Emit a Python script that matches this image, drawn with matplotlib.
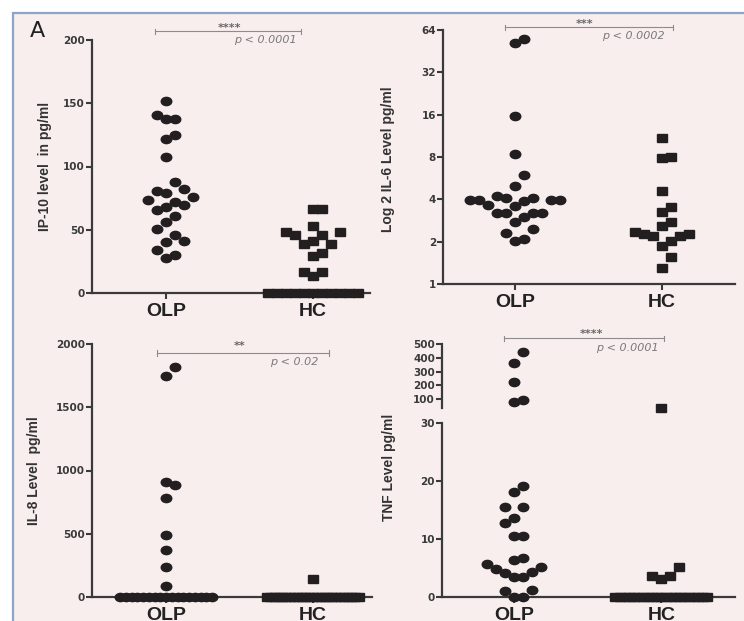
import numpy as np
import matplotlib
matplotlib.use('Agg')
import matplotlib.pyplot as plt
from matplotlib.markers import MarkerStyle
from matplotlib.transforms import Affine2D, blended_transform_factory
from matplotlib.patches import Rectangle

# donnees
groups = ['OLP', 'HC']
ip10_olp = [151.8, 137.9, 137.9, 140.5, 121.6, 124.7, 107.9, 87.6, 82.4, 78.9, 80.8, 75.5, 73.9,
            72.1, 69.5, 67.6, 65.8, 60.5, 56.1, 50.8, 46.1, 40.8, 40.3, 34.2, 27.6, 30.3]
ip10_hc = [66.3, 66.3, 52.6, 48.2, 45.8, 48.2, 45.5, 38.7, 41.3, 38.7, 28.9, 31.6, 16.6, 13.7, 16.6] + [0] * 11
il6_olp = [52, 55, 15.6, 8.4, 6.0, 5.0, 3.95, 3.95, 3.9, 4.07, 4.22, 3.95, 3.95, 4.07, 3.6, 3.65,
           3.2, 3.2, 3.0, 2.75, 3.2, 3.2, 2.45, 2.3, 2.03, 2.08]
il6_hc = [11.0, 8.05, 7.9, 4.6, 3.5, 3.27, 2.78, 2.58, 2.33, 2.25, 2.25, 2.2, 2.2, 2.03, 1.86, 1.55, 1.29]
il8_olp = [1750, 1821, 910, 889, 779, 492, 371, 234, 84] + [0] * 17
il8_hc = [142] + [0] * 25
tnf_olp = [442, 362, 224, 78, 93, 19.2, 18.1, 15.5, 15.5, 13.6, 12.7, 10.6, 10.5, 6.8, 6.4, 5.7,
           5.2, 4.75, 4.3, 4.2, 3.4, 3.4, 0.97, 1.15, 0, 0]
tnf_hc = [38, 5.2, 3.7, 3.1, 3.7] + [0] * 21

W, H = 744, 621
fig = plt.figure(figsize=(W / 100, H / 100), dpi=100)
fig.patch.set_facecolor('white')
fig.patches.append(Rectangle((12.5 / W, -0.1), 1.2, 1.1 - 13 / H, transform=fig.transFigure,
                             facecolor='#f8eeee', edgecolor='#8ea4c4', lw=1.6, zorder=-10))

axcol = '#3a3a3a'
dot = '#231f20'
gris = '#8c8c8c'
circ = MarkerStyle('o', transform=Affine2D().scale(1.15, 0.9))
carre = MarkerStyle('s', transform=Affine2D().scale(1.1, 0.95))

# decalages candidats (pixels) : 0, +0.5, -0.5, +1, -1 ...
cands = [0.0]
for k in np.arange(0.5, 90, 0.5):
    cands += [k, -k]
cands = np.array(cands)


def add_ax(l, t, r, b):
    return fig.add_axes([l / W, 1 - b / H, (r - l) / W, (b - t) / H])


def style(ax, xlabels=True):
    ax.set_facecolor('none')
    for s in ['top', 'right']:
        ax.spines[s].set_visible(False)
    for s in ['left', 'bottom']:
        ax.spines[s].set_color(axcol)
        ax.spines[s].set_linewidth(1.6)
    ax.tick_params(axis='y', length=4, width=1.5, color=axcol, labelsize=7.5,
                   labelcolor='#3a3a3a', pad=1)
    ax.tick_params(axis='x', length=4, width=1.5, color=axcol, pad=3)
    if xlabels:
        ax.set_xticks([0, 1], groups, fontsize=14, fontweight='bold', family='Liberation Sans',
                      color='#222222')
    for lb in ax.get_yticklabels():
        lb.set_fontweight('bold')


def swarm(ax, xc, vals, w=9.0, h=14.0, maxw=92.0):
    # nuage facon GraphPad (boites rectangulaires), calcule en pixels
    vals = np.asarray(vals, float)
    ypx = ax.transData.transform(np.column_stack([np.zeros_like(vals), vals]))[:, 1]
    ppx = ax.transData.transform((1, 0))[0] - ax.transData.transform((0, 0))[0]
    xs = np.full(len(vals), np.nan)
    hh = np.full(len(vals), h)
    uniq, counts = np.unique(vals, return_counts=True)
    for u, c in zip(uniq, counts):
        if c >= 6:
            idx = np.where(vals == u)[0]
            s = min(w, maxw / (c - 1))
            xs[idx] = (np.arange(c) - (c - 1) / 2) * s
            hh[idx] = 9.0
    for i in np.argsort(ypx, kind='stable'):
        if not np.isnan(xs[i]):
            continue
        ok = ~np.isnan(xs)
        near = np.abs(ypx[ok] - ypx[i]) < hh[ok]
        px_ = xs[ok][near]
        best = cands[0]
        for c in cands:
            if np.all(np.abs(px_ - c) >= w - 1e-9):
                best = c
                break
        xs[i] = best
    return xc + xs / ppx


def points(ax, olp, hc):
    ax.plot(swarm(ax, 0, olp), olp, ls='none', marker=circ, ms=6.6, color=dot, clip_on=False, zorder=3)
    ax.plot(swarm(ax, 1, hc), hc, ls='none', marker=carre, ms=6.2, color=dot, clip_on=False, zorder=3)


def bracket(ax, x0, x1, ypx, stars, sx, sy, ptxt, px, py):
    tr = blended_transform_factory(ax.transData, fig.transFigure)
    y = 1 - ypx / H
    d = 2.5 / H
    ax.plot([x0, x1], [y, y], color=gris, lw=0.8, transform=tr, clip_on=False)
    for xx in (x0, x1):
        ax.plot([xx, xx], [y - d, y + d], color=gris, lw=0.8, transform=tr, clip_on=False)
    ax.text(sx, 1 - sy / H, stars, transform=tr, ha='center', va='center', fontsize=8,
            color='#666666', fontweight='bold')
    ax.text(px, 1 - py / H, ptxt, transform=tr, ha='right', va='center', fontsize=8,
            color='#7a7a7a', style='italic')


def ylab(x, y, txt):
    fig.text(x / W, 1 - y / H, txt, rotation=90, ha='center', va='center', fontsize=10,
             fontweight='bold', family='Liberation Sans', color='#333333')


# IP-10
ax1 = add_ax(92, 40, 370, 293)
ax1.set_xlim(-0.503, 1.39)
ax1.set_ylim(0, 200)
ax1.set_yticks([0, 50, 100, 150, 200])
style(ax1)
points(ax1, ip10_olp, ip10_hc)
bracket(ax1, -0.075, 0.918, 31, '****', 0.43, 28, 'p < 0.0001', 0.89, 40)
ylab(45, 166, 'IP-10 level  in pg/ml')

# IL-6
ax2 = add_ax(443, 30, 735, 284)
ax2.set_xlim(-0.49, 1.5)
ax2.set_yscale('log', base=2)
ax2.set_ylim(1, 64)
ax2.set_yticks([1, 2, 4, 8, 16, 32, 64], ['1', '2', '4', '8', '16', '32', '64'])
ax2.minorticks_off()
style(ax2)
points(ax2, il6_olp, il6_hc)
bracket(ax2, -0.068, 1.08, 27, '***', 0.476, 24, 'p < 0.0002', 1.02, 36)
ylab(388, 159, 'Log 2 IL-6 Level pg/ml')

# IL-8
ax3 = add_ax(92, 344, 372, 597)
ax3.set_xlim(-0.503, 1.40)
ax3.set_ylim(0, 2000)
ax3.set_yticks([0, 500, 1000, 1500, 2000])
style(ax3)
points(ax3, il8_olp, il8_hc)
bracket(ax3, -0.06, 1.109, 353, '**', 0.503, 346, 'p < 0.02', 1.034, 362)
ylab(34, 471, 'IL-8 Level  pg/ml')

# TNF, axe coupe
ax4 = add_ax(442, 423, 735, 597)
ax4u = add_ax(442, 344, 735, 408)
for a in (ax4, ax4u):
    a.set_xlim(-0.49, 1.5)
ax4.set_ylim(0, 30)
ax4.set_yticks([0, 10, 20, 30])
ax4u.set_ylim(35, 500)
ax4u.set_yticks([100, 200, 300, 400, 500])
style(ax4)
style(ax4u, xlabels=False)
ax4u.spines['bottom'].set_visible(False)
ax4u.set_xticks([])
for lb in ax4u.get_yticklabels():
    lb.set_fontweight('bold')
coupe = 30
olp_lo = [v for v in tnf_olp if v <= coupe]
olp_hi = [v for v in tnf_olp if v > coupe]
hc_lo = [v for v in tnf_hc if v <= coupe]
hc_hi = [v for v in tnf_hc if v > coupe]
points(ax4, olp_lo, hc_lo)
points(ax4u, olp_hi, hc_hi)
bracket(ax4u, -0.068, 1.02, 338, '****', 0.524, 334, 'p < 0.0001', 0.98, 348)
ylab(389, 467, 'TNF Level pg/ml')

fig.text(30 / W, 1 - 31 / H, 'A', fontsize=16, ha='left', va='center', color='#222222')

fig.savefig('out.png', dpi=100)
